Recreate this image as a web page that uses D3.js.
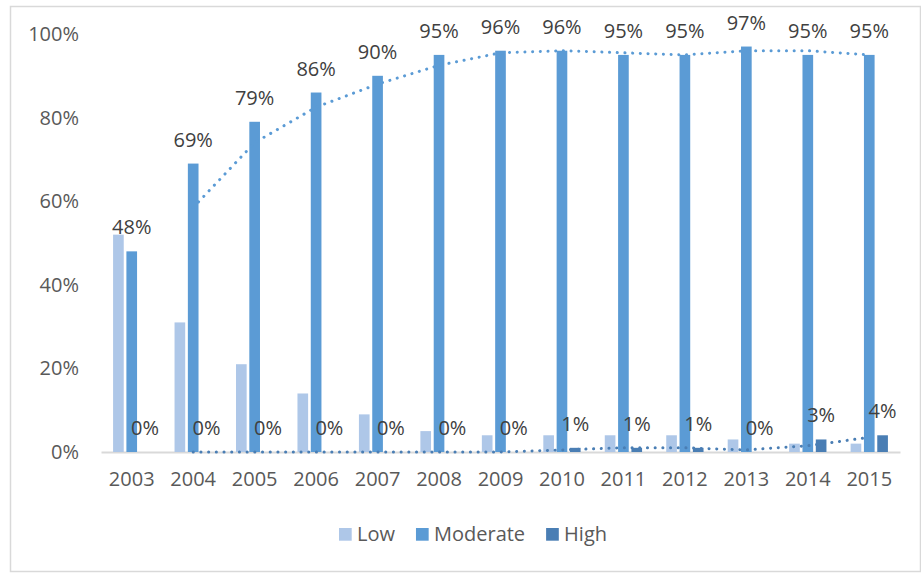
<!DOCTYPE html>
<html>
<head>
<meta charset="utf-8">
<script src="https://cdn.jsdelivr.net/npm/d3@7"></script>
<style>
  html, body { margin: 0; padding: 0; background: #fff; }
  svg { display: block; }
  text { font-family: "Open Sans", "Noto Sans", sans-serif; }
</style>
</head>
<body>
<svg id="chart" width="921" height="573"></svg>
<script>
// Share of cases by level, per year (percent)
const years = ["2003","2004","2005","2006","2007","2008","2009","2010","2011","2012","2013","2014","2015"];
const seriesNames = ["Low", "Moderate", "High"];
const lowValues      = [52, 31, 21, 14, 9, 5, 4, 4, 4, 4, 3, 2, 2];
const moderateValues = [48, 69, 79, 86, 90, 95, 96, 96, 95, 95, 97, 95, 95];
const highValues     = [0, 0, 0, 0, 0, 0, 0, 1, 1, 1, 0, 3, 4];
const yTicks = [0, 20, 40, 60, 80, 100];

const colors = { Low: "#AEC7E8", Moderate: "#5B9BD5", High: "#4A7EB4" };
const valuesBySeries = { Low: lowValues, Moderate: moderateValues, High: highValues };
const FONT = 20;

const svg = d3.select("#chart");

// outer frame
svg.append("rect")
  .attr("x", 10.5).attr("y", 6.5)
  .attr("width", 910).attr("height", 565)
  .attr("fill", "none").attr("stroke", "#D9D9D9").attr("stroke-width", 1.5);

const plot = { left: 101, right: 900, top: 34, bottom: 452 };

const x = d3.scaleBand().domain(years).range([plot.left, plot.right]).padding(0);
const groupWidth = 37.3;
const xInner = d3.scaleBand().domain(seriesNames).range([0, groupWidth]).paddingInner(0.2).paddingOuter(0);
const y = d3.scaleLinear().domain([0, 100]).range([plot.bottom, plot.top]);

const center = yr => x(yr) + x.bandwidth() / 2;

// y axis labels (no axis line)
const yAxis = d3.axisLeft(y).tickValues(yTicks).tickFormat(d => d + "%").tickSize(0).tickPadding(0);
const gy = svg.append("g").attr("transform", "translate(79,0)").call(yAxis);
gy.select(".domain").remove();
gy.selectAll("text").attr("font-size", FONT).attr("fill", "#595959")
  .attr("font-family", "'Open Sans', sans-serif");

// x axis: baseline + year labels
const xAxis = d3.axisBottom(x).tickSize(0).tickPadding(20);
const gx = svg.append("g").attr("transform", `translate(0,${plot.bottom})`).call(xAxis);
gx.select(".domain").attr("stroke", "#D9D9D9").attr("stroke-width", 2);
gx.selectAll("text").attr("font-size", FONT).attr("fill", "#595959")
  .attr("font-family", "'Open Sans', sans-serif");

// bars
const barData = [];
seriesNames.forEach(s => {
  years.forEach((yr, i) => barData.push({ series: s, year: yr, value: valuesBySeries[s][i] }));
});
svg.append("g").selectAll("rect").data(barData).join("rect")
  .attr("x", d => center(d.year) - groupWidth / 2 + xInner(d.series))
  .attr("width", xInner.bandwidth())
  .attr("y", d => y(d.value))
  .attr("height", d => y(0) - y(d.value))
  .attr("fill", d => colors[d.series]);

// 2-period moving average trendlines
function movingAverage(vals) {
  const out = [];
  for (let i = 1; i < vals.length; i++) out.push({ year: years[i], value: (vals[i] + vals[i - 1]) / 2 });
  return out;
}
const line = d3.line().x(d => center(d.year)).y(d => y(d.value));
[["Moderate", "#5B9BD5"], ["High", "#4A7EB4"]].forEach(([s, c]) => {
  svg.append("path")
    .datum(movingAverage(valuesBySeries[s]))
    .attr("d", line)
    .attr("fill", "none")
    .attr("stroke", c)
    .attr("stroke-width", 3)
    .attr("stroke-linecap", "round")
    .attr("stroke-dasharray", "0.1 7.6");
});

// data labels on Moderate and High
["Moderate", "High"].forEach(s => {
  svg.append("g").selectAll("text").data(years.map((yr, i) => ({ year: yr, value: valuesBySeries[s][i] })))
    .join("text")
    .attr("x", d => center(d.year) - groupWidth / 2 + xInner(s) + xInner.bandwidth() / 2)
    .attr("y", d => y(d.value) - 24)
    .attr("dy", "0.35em")
    .attr("text-anchor", "middle")
    .attr("font-size", FONT)
    .attr("fill", "#404040")
    .text(d => d.value + "%");
});

// legend
const legend = svg.append("g").attr("transform", "translate(339,528)");
let lx = 0;
seriesNames.forEach(s => {
  const g = legend.append("g").attr("transform", `translate(${lx},0)`);
  g.append("rect").attr("width", 12.7).attr("height", 12.7).attr("fill", colors[s]);
  const t = g.append("text").attr("x", 18).attr("y", 13).attr("font-size", FONT)
    .attr("fill", "#595959").text(s);
  lx += 18 + t.node().getComputedTextLength() + 21;
});
</script>
</body>
</html>
